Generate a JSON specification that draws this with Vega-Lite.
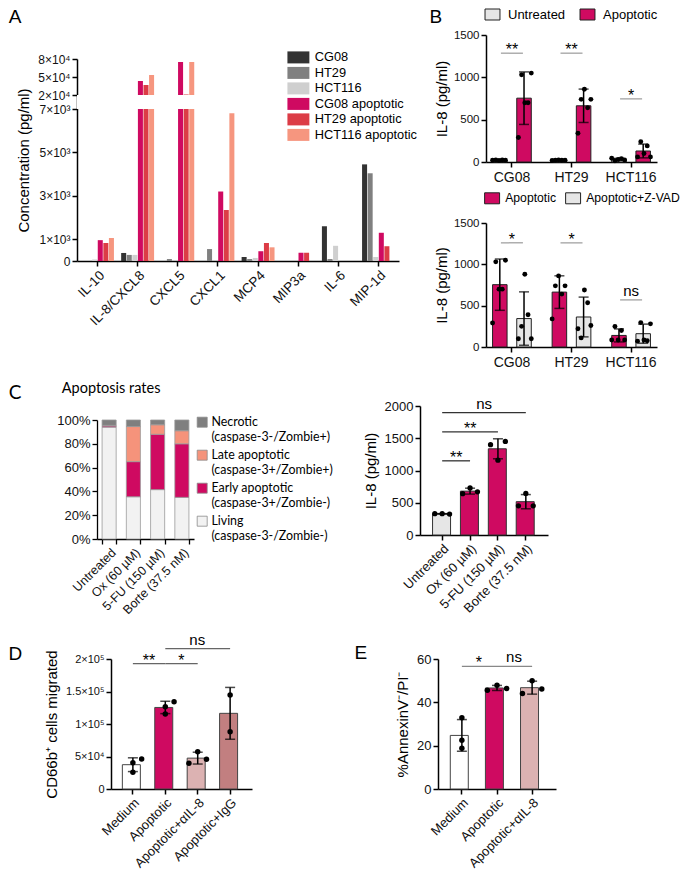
{
"$schema": "https://vega.github.io/schema/vega-lite/v6.json",
"background": "white",
"padding": {"left": 1, "top": 1, "right": 0, "bottom": 0},
"config": {
  "font": "Liberation Sans",
  "view": {"stroke": null},
  "axis": {"domainColor": "#000", "domainWidth": 1.5, "tickColor": "#000", "tickWidth": 1.5, "tickSize": 5, "labelColor": "#111", "labelFontSize": 12, "titleColor": "#000", "titleFontSize": 15, "titleFontWeight": "normal", "grid": false, "labelPadding": 2, "titlePadding": 6},
  "legend": {"labelColor": "#000", "labelFontSize": 13, "labelLimit": 300},
  "title": {"fontWeight": "normal", "color": "#000", "anchor": "start", "frame": "bounds", "fontSize": 19, "font": "Liberation Sans"}
},
"datasets": {
  "A": [
    {"cyt":"IL-10","series":"CG08","value":0},{"cyt":"IL-10","series":"HT29","value":0},{"cyt":"IL-10","series":"HCT116","value":70},{"cyt":"IL-10","series":"CG08 apoptotic","value":960},{"cyt":"IL-10","series":"HT29 apoptotic","value":830},{"cyt":"IL-10","series":"HCT116 apoptotic","value":1060},
    {"cyt":"IL-8/CXCL8","series":"CG08","value":370},{"cyt":"IL-8/CXCL8","series":"HT29","value":280},{"cyt":"IL-8/CXCL8","series":"HCT116","value":280},{"cyt":"IL-8/CXCL8","series":"CG08 apoptotic","value":43300},{"cyt":"IL-8/CXCL8","series":"HT29 apoptotic","value":36700},{"cyt":"IL-8/CXCL8","series":"HCT116 apoptotic","value":53300},
    {"cyt":"CXCL5","series":"CG08","value":0},{"cyt":"CXCL5","series":"HT29","value":90},{"cyt":"CXCL5","series":"HCT116","value":0},{"cyt":"CXCL5","series":"CG08 apoptotic","value":75000},{"cyt":"CXCL5","series":"HT29 apoptotic","value":21000},{"cyt":"CXCL5","series":"HCT116 apoptotic","value":75000},
    {"cyt":"CXCL1","series":"CG08","value":0},{"cyt":"CXCL1","series":"HT29","value":550},{"cyt":"CXCL1","series":"HCT116","value":0},{"cyt":"CXCL1","series":"CG08 apoptotic","value":3200},{"cyt":"CXCL1","series":"HT29 apoptotic","value":2350},{"cyt":"CXCL1","series":"HCT116 apoptotic","value":6800},
    {"cyt":"MCP4","series":"CG08","value":185},{"cyt":"MCP4","series":"HT29","value":90},{"cyt":"MCP4","series":"HCT116","value":140},{"cyt":"MCP4","series":"CG08 apoptotic","value":450},{"cyt":"MCP4","series":"HT29 apoptotic","value":830},{"cyt":"MCP4","series":"HCT116 apoptotic","value":630},
    {"cyt":"MIP3a","series":"CG08","value":0},{"cyt":"MIP3a","series":"HT29","value":0},{"cyt":"MIP3a","series":"HCT116","value":0},{"cyt":"MIP3a","series":"CG08 apoptotic","value":380},{"cyt":"MIP3a","series":"HT29 apoptotic","value":380},{"cyt":"MIP3a","series":"HCT116 apoptotic","value":0},
    {"cyt":"IL-6","series":"CG08","value":1600},{"cyt":"IL-6","series":"HT29","value":90},{"cyt":"IL-6","series":"HCT116","value":700},{"cyt":"IL-6","series":"CG08 apoptotic","value":0},{"cyt":"IL-6","series":"HT29 apoptotic","value":0},{"cyt":"IL-6","series":"HCT116 apoptotic","value":0},
    {"cyt":"MIP-1d","series":"CG08","value":4450},{"cyt":"MIP-1d","series":"HT29","value":4040},{"cyt":"MIP-1d","series":"HCT116","value":185},{"cyt":"MIP-1d","series":"CG08 apoptotic","value":1300},{"cyt":"MIP-1d","series":"HT29 apoptotic","value":680},{"cyt":"MIP-1d","series":"HCT116 apoptotic","value":0}
  ],
  "B1": [
    {"cell":"CG08","treat":"Untreated","rep":"U1","v":20},{"cell":"CG08","treat":"Untreated","rep":"U2","v":25},{"cell":"CG08","treat":"Untreated","rep":"U3","v":18},{"cell":"CG08","treat":"Untreated","rep":"U4","v":24},{"cell":"CG08","treat":"Untreated","rep":"U5","v":22},
    {"cell":"CG08","treat":"Apoptotic","rep":"A1","v":290},{"cell":"CG08","treat":"Apoptotic","rep":"A2","v":1030},{"cell":"CG08","treat":"Apoptotic","rep":"A3","v":700},{"cell":"CG08","treat":"Apoptotic","rep":"A4","v":700},{"cell":"CG08","treat":"Apoptotic","rep":"A5","v":1050},
    {"cell":"HT29","treat":"Untreated","rep":"U1","v":18},{"cell":"HT29","treat":"Untreated","rep":"U2","v":22},{"cell":"HT29","treat":"Untreated","rep":"U3","v":25},{"cell":"HT29","treat":"Untreated","rep":"U4","v":20},{"cell":"HT29","treat":"Untreated","rep":"U5","v":22},
    {"cell":"HT29","treat":"Apoptotic","rep":"A1","v":340},{"cell":"HT29","treat":"Apoptotic","rep":"A2","v":740},{"cell":"HT29","treat":"Apoptotic","rep":"A3","v":860},{"cell":"HT29","treat":"Apoptotic","rep":"A4","v":640},{"cell":"HT29","treat":"Apoptotic","rep":"A5","v":740},
    {"cell":"HCT116","treat":"Untreated","rep":"U1","v":45},{"cell":"HCT116","treat":"Untreated","rep":"U2","v":15},{"cell":"HCT116","treat":"Untreated","rep":"U3","v":30},{"cell":"HCT116","treat":"Untreated","rep":"U4","v":40},{"cell":"HCT116","treat":"Untreated","rep":"U5","v":25},
    {"cell":"HCT116","treat":"Apoptotic","rep":"A1","v":60},{"cell":"HCT116","treat":"Apoptotic","rep":"A2","v":240},{"cell":"HCT116","treat":"Apoptotic","rep":"A3","v":100},{"cell":"HCT116","treat":"Apoptotic","rep":"A4","v":190},{"cell":"HCT116","treat":"Apoptotic","rep":"A5","v":60}
  ],
  "B2": [
    {"cell":"CG08","treat":"Apoptotic","rep":"A1","v":290},{"cell":"CG08","treat":"Apoptotic","rep":"A2","v":1030},{"cell":"CG08","treat":"Apoptotic","rep":"A3","v":700},{"cell":"CG08","treat":"Apoptotic","rep":"A4","v":700},{"cell":"CG08","treat":"Apoptotic","rep":"A5","v":1050},
    {"cell":"CG08","treat":"Apoptotic+Z-VAD","rep":"Z1","v":100},{"cell":"CG08","treat":"Apoptotic+Z-VAD","rep":"Z2","v":250},{"cell":"CG08","treat":"Apoptotic+Z-VAD","rep":"Z3","v":880},{"cell":"CG08","treat":"Apoptotic+Z-VAD","rep":"Z4","v":390},{"cell":"CG08","treat":"Apoptotic+Z-VAD","rep":"Z5","v":100},
    {"cell":"HT29","treat":"Apoptotic","rep":"A1","v":340},{"cell":"HT29","treat":"Apoptotic","rep":"A2","v":740},{"cell":"HT29","treat":"Apoptotic","rep":"A3","v":860},{"cell":"HT29","treat":"Apoptotic","rep":"A4","v":640},{"cell":"HT29","treat":"Apoptotic","rep":"A5","v":740},
    {"cell":"HT29","treat":"Apoptotic+Z-VAD","rep":"Z1","v":220},{"cell":"HT29","treat":"Apoptotic+Z-VAD","rep":"Z2","v":110},{"cell":"HT29","treat":"Apoptotic+Z-VAD","rep":"Z3","v":690},{"cell":"HT29","treat":"Apoptotic+Z-VAD","rep":"Z4","v":535},{"cell":"HT29","treat":"Apoptotic+Z-VAD","rep":"Z5","v":260},
    {"cell":"HCT116","treat":"Apoptotic","rep":"A1","v":84},{"cell":"HCT116","treat":"Apoptotic","rep":"A2","v":248},{"cell":"HCT116","treat":"Apoptotic","rep":"A3","v":84},{"cell":"HCT116","treat":"Apoptotic","rep":"A4","v":200},{"cell":"HCT116","treat":"Apoptotic","rep":"A5","v":84},
    {"cell":"HCT116","treat":"Apoptotic+Z-VAD","rep":"Z1","v":70},{"cell":"HCT116","treat":"Apoptotic+Z-VAD","rep":"Z2","v":295},{"cell":"HCT116","treat":"Apoptotic+Z-VAD","rep":"Z3","v":84},{"cell":"HCT116","treat":"Apoptotic+Z-VAD","rep":"Z4","v":76},{"cell":"HCT116","treat":"Apoptotic+Z-VAD","rep":"Z5","v":280}
  ],
  "Bsig1": [{"cell":"CG08","y":1285,"lab":"**"},{"cell":"HT29","y":1285,"lab":"**"},{"cell":"HCT116","y":746,"lab":"*"}],
  "Bsig2": [{"cell":"CG08","y":1260,"lab":"*"},{"cell":"HT29","y":1260,"lab":"*"},{"cell":"HCT116","y":570,"lab":"ns"}],
  "Cst": [
    {"drug":"Untreated","state":"Living","lvl":1,"pct":94},{"drug":"Untreated","state":"Early apoptotic","lvl":2,"pct":1},{"drug":"Untreated","state":"Late apoptotic","lvl":3,"pct":0.5},{"drug":"Untreated","state":"Necrotic","lvl":4,"pct":4.5},
    {"drug":"Ox (60 µM)","state":"Living","lvl":1,"pct":35.5},{"drug":"Ox (60 µM)","state":"Early apoptotic","lvl":2,"pct":29.5},{"drug":"Ox (60 µM)","state":"Late apoptotic","lvl":3,"pct":29.5},{"drug":"Ox (60 µM)","state":"Necrotic","lvl":4,"pct":5.5},
    {"drug":"5-FU (150 µM)","state":"Living","lvl":1,"pct":41.5},{"drug":"5-FU (150 µM)","state":"Early apoptotic","lvl":2,"pct":46.5},{"drug":"5-FU (150 µM)","state":"Late apoptotic","lvl":3,"pct":8},{"drug":"5-FU (150 µM)","state":"Necrotic","lvl":4,"pct":4},
    {"drug":"Borte (37.5 nM)","state":"Living","lvl":1,"pct":35},{"drug":"Borte (37.5 nM)","state":"Early apoptotic","lvl":2,"pct":45},{"drug":"Borte (37.5 nM)","state":"Late apoptotic","lvl":3,"pct":11},{"drug":"Borte (37.5 nM)","state":"Necrotic","lvl":4,"pct":9}
  ],
  "Cil": [
    {"drug":"Untreated","rep":"a","v":330},{"drug":"Untreated","rep":"b","v":330},{"drug":"Untreated","rep":"c","v":325},
    {"drug":"Ox (60 µM)","rep":"a","v":640},{"drug":"Ox (60 µM)","rep":"b","v":730},{"drug":"Ox (60 µM)","rep":"c","v":670},
    {"drug":"5-FU (150 µM)","rep":"a","v":1400},{"drug":"5-FU (150 µM)","rep":"b","v":1160},{"drug":"5-FU (150 µM)","rep":"c","v":1450},
    {"drug":"Borte (37.5 nM)","rep":"a","v":453},{"drug":"Borte (37.5 nM)","rep":"b","v":644},{"drug":"Borte (37.5 nM)","rep":"c","v":453}
  ],
  "Csig": [
    {"g1":"Untreated","g2":"Ox (60 µM)","y":1150,"lab":"**","span":1},
    {"g1":"Untreated","g2":"5-FU (150 µM)","y":1600,"lab":"**","span":2},
    {"g1":"Untreated","g2":"Borte (37.5 nM)","y":1896,"lab":"ns","span":3}
  ],
  "D": [
    {"grp":"Medium","rep":"b","v":40500},{"grp":"Medium","rep":"b","v":25600},{"grp":"Medium","rep":"c","v":46100},
    {"grp":"Apoptotic","rep":"b","v":126700},{"grp":"Apoptotic","rep":"b","v":115400},{"grp":"Apoptotic","rep":"c","v":134300},
    {"grp":"Apoptotic+αIL-8","rep":"a","v":39500},{"grp":"Apoptotic+αIL-8","rep":"b","v":57400},{"grp":"Apoptotic+αIL-8","rep":"c","v":45600},
    {"grp":"Apoptotic+IgG","rep":"b","v":144600},{"grp":"Apoptotic+IgG","rep":"b","v":88200}
  ],
  "Dsig": [
    {"g1":"Medium","g2":"Apoptotic","y":193000,"lab":"**","span":1},
    {"g1":"Apoptotic","g2":"Apoptotic+αIL-8","y":193000,"lab":"*","span":1},
    {"g1":"Apoptotic","g2":"Apoptotic+IgG","y":216000,"lab":"ns","span":2}
  ],
  "E": [
    {"grp":"Medium","rep":"b","v":32.9},{"grp":"Medium","rep":"b","v":22.5},{"grp":"Medium","rep":"b","v":18.8},
    {"grp":"Apoptotic","rep":"a","v":45.6},{"grp":"Apoptotic","rep":"b","v":47.9},{"grp":"Apoptotic","rep":"c","v":46.4},
    {"grp":"Apoptotic+αIL-8","rep":"a","v":44.1},{"grp":"Apoptotic+αIL-8","rep":"b","v":50},{"grp":"Apoptotic+αIL-8","rep":"c","v":46.2}
  ],
  "Esig": [
    {"g1":"Medium","g2":"Apoptotic","y":56.6,"lab":"*"},
    {"g1":"Apoptotic","g2":"Apoptotic+αIL-8","y":56.6,"lab":"ns"}
  ],
  "dummy": [{"k": 0}]
},
"spacing": 4,
"align": "none",
"resolve": {"scale": {"color": "independent", "x": "independent", "y": "independent", "xOffset": "independent"}, "legend": {"color": "independent"}},
"vconcat": [
 {
  "spacing": 0, "align": "none",
  "resolve": {"scale": {"color": "independent", "x": "independent", "y": "independent", "xOffset": "independent"}, "legend": {"color": "independent"}},
  "hconcat": [
   {"width": 1, "height": 1, "data": {"name": "dummy"}, "mark": {"type": "point", "opacity": 0}, "encoding": {}},
   {
    "spacing": 12, "align": "none",
    "resolve": {"scale": {"color": "independent", "x": "independent", "y": "independent", "xOffset": "independent"}, "legend": {"color": "independent"}},
    "hconcat": [
     {
      "spacing": 0, "align": "none",
      "resolve": {"scale": {"color": "independent", "x": "independent", "y": "independent", "xOffset": "independent"}, "legend": {"color": "independent"}},
      "vconcat": [
       {"width": 1, "height": 1, "data": {"name": "dummy"}, "mark": {"type": "point", "opacity": 0}, "encoding": {}},
       {
        "width": 322, "height": 202,
        "title": {"text": "A", "offset": 24, "dx": -8},
        "layer": [
         {"data": {"name": "A"},
          "mark": {"type": "bar"},
          "encoding": {
           "x": {"field": "cyt", "type": "nominal", "sort": ["IL-10","IL-8/CXCL8","CXCL5","CXCL1","MCP4","MIP3a","IL-6","MIP-1d"], "scale": {"paddingInner": 0.18, "paddingOuter": 0.1}, "axis": {"title": null, "labelAngle": -45, "labelFontSize": 13.5}},
           "xOffset": {"field": "series", "type": "nominal", "sort": ["CG08","HT29","HCT116","CG08 apoptotic","HT29 apoptotic","HCT116 apoptotic"], "scale": {"paddingInner": 0.1, "paddingOuter": 0}},
           "y": {"field": "value", "type": "quantitative", "title": "Concentration (pg/ml)", "scale": {"domain": [0,7000,20000,80000], "range": [202,50,36,0], "nice": false, "zero": false}, "axis": {"values": [0,1000,3000,5000,7000,20000,50000,80000], "tickCount": 20, "labelOverlap": false, "labelExpr": "datum.value == 0 ? '0' : datum.value < 10000 ? (datum.value / 1000) + '×10³' : (datum.value / 10000) + '×10⁴'", "labelFontSize": 12}},
           "color": {"field": "series", "type": "nominal", "scale": {"domain": ["CG08","HT29","HCT116","CG08 apoptotic","HT29 apoptotic","HCT116 apoptotic"], "range": ["#333333","#808080","#cfcfcf","#cf0a61","#dc3c46","#f6967f"]}, "legend": {"title": null, "orient": "none", "legendX": 215, "legendY": -8, "symbolType": "M-1.83,-1H1.83V1H-1.83Z", "symbolSize": 144, "symbolStrokeWidth": 0, "labelFontSize": 12.8, "rowPadding": 1.5, "labelOffset": 10, "padding": 0}}
          }},
         {"data": {"values": [{"lo": 7000, "hi": 20000}]},
          "mark": {"type": "rect", "color": "white"},
          "encoding": {"y": {"field": "lo", "type": "quantitative", "title": "Concentration (pg/ml)"}, "y2": {"field": "hi"}}}
        ]
       }
      ]
     },
     {
      "spacing": 0, "align": "none",
      "resolve": {"scale": {"color": "independent", "x": "independent", "y": "independent", "xOffset": "independent"}, "legend": {"color": "independent"}},
      "vconcat": [
       {"width": 1, "height": 1, "data": {"name": "dummy"}, "mark": {"type": "point", "opacity": 0}, "encoding": {}},
       {
        "spacing": 8,
        "resolve": {"scale": {"color": "independent", "x": "independent", "y": "independent", "xOffset": "independent"}, "legend": {"color": "independent"}},
        "vconcat": [
         {
          "width": 171, "height": 127,
          "title": {"text": "B", "offset": -19, "dx": -5},
          "resolve": {"scale": {"xOffset": "independent"}},
          "layer": [
           {"data": {"name": "B1"}, "mark": {"type": "bar", "stroke": "#222", "strokeWidth": 1},
            "encoding": {
             "x": {"field": "cell", "type": "nominal", "sort": ["CG08","HT29","HCT116"], "scale": {"paddingInner": 0.35, "paddingOuter": 0.11}, "axis": {"title": null, "labelAngle": 0, "labelFontSize": 14, "labelPadding": 3}},
             "xOffset": {"field": "treat", "type": "nominal", "sort": ["Untreated","Apoptotic"], "scale": {"paddingInner": 0.4, "paddingOuter": 0}},
             "y": {"aggregate": "mean", "field": "v", "type": "quantitative", "title": "IL-8 (pg/ml)", "scale": {"domain": [0, 1500], "nice": false}, "axis": {"values": [0, 500, 1000, 1500], "format": "d", "labelFontSize": 11.5, "titlePadding": 4}},
             "color": {"field": "treat", "type": "nominal", "scale": {"domain": ["Untreated","Apoptotic"], "range": ["#e6e6e6","#cf0a61"]}, "legend": {"title": null, "orient": "top", "direction": "horizontal", "offset": 13, "symbolType": "M-1.36,-1H1.36V1H-1.36Z", "symbolSize": 121, "symbolStrokeColor": "#222", "symbolStrokeWidth": 1, "labelFontSize": 13, "columnPadding": 12, "labelOffset": 9, "padding": 0}}
            }},
           {"data": {"name": "B1"}, "mark": {"type": "errorbar", "extent": "stdev", "ticks": {"size": 10}, "thickness": 1.5, "color": "#000"},
            "encoding": {
             "x": {"field": "cell", "type": "nominal", "sort": ["CG08","HT29","HCT116"], "scale": {"paddingInner": 0.35, "paddingOuter": 0.11}, "axis": {"title": null, "labelAngle": 0, "labelFontSize": 14, "labelPadding": 3}},
             "xOffset": {"field": "treat", "type": "nominal", "sort": ["Untreated","Apoptotic"], "scale": {"paddingInner": 0.4, "paddingOuter": 0}},
             "y": {"field": "v", "type": "quantitative", "title": "IL-8 (pg/ml)"}}},
           {"data": {"name": "B1"}, "mark": {"type": "circle", "color": "#000", "size": 24, "opacity": 1},
            "encoding": {
             "x": {"field": "cell", "type": "nominal", "sort": ["CG08","HT29","HCT116"], "scale": {"paddingInner": 0.35, "paddingOuter": 0.11}, "axis": {"title": null, "labelAngle": 0, "labelFontSize": 14, "labelPadding": 3}},
             "xOffset": {"field": "rep", "type": "nominal", "scale": {"domain": ["U1","U2","U3","U4","U5","g1","g2","g3","A1","A2","A3","A4","A5"], "paddingInner": 0, "paddingOuter": 0}},
             "y": {"field": "v", "type": "quantitative", "title": "IL-8 (pg/ml)"}}},
           {"data": {"name": "Bsig1"}, "mark": {"type": "tick", "orient": "horizontal", "size": 22, "thickness": 1.5, "color": "#8c8c8c"},
            "encoding": {
             "x": {"field": "cell", "type": "nominal", "sort": ["CG08","HT29","HCT116"], "scale": {"paddingInner": 0.35, "paddingOuter": 0.11}, "axis": {"title": null, "labelAngle": 0, "labelFontSize": 14, "labelPadding": 3}},
             "y": {"field": "y", "type": "quantitative", "title": "IL-8 (pg/ml)"}}},
           {"data": {"name": "Bsig1"}, "mark": {"type": "text", "fontSize": 16, "baseline": "alphabetic", "dy": 2},
            "encoding": {
             "x": {"field": "cell", "type": "nominal", "sort": ["CG08","HT29","HCT116"], "scale": {"paddingInner": 0.35, "paddingOuter": 0.11}, "axis": {"title": null, "labelAngle": 0, "labelFontSize": 14, "labelPadding": 3}},
             "y": {"field": "y", "type": "quantitative", "title": "IL-8 (pg/ml)"},
             "text": {"field": "lab"}}}
          ]
         },
         {
          "width": 171, "height": 124,
          "resolve": {"scale": {"xOffset": "independent"}},
          "layer": [
           {"data": {"name": "B2"}, "mark": {"type": "bar", "stroke": "#222", "strokeWidth": 1},
            "encoding": {
             "x": {"field": "cell", "type": "nominal", "sort": ["CG08","HT29","HCT116"], "scale": {"paddingInner": 0.35, "paddingOuter": 0.11}, "axis": {"title": null, "labelAngle": 0, "labelFontSize": 14, "labelPadding": 3}},
             "xOffset": {"field": "treat", "type": "nominal", "sort": ["Apoptotic","Apoptotic+Z-VAD"], "scale": {"paddingInner": 0.4, "paddingOuter": 0}},
             "y": {"aggregate": "mean", "field": "v", "type": "quantitative", "title": "IL-8 (pg/ml)", "scale": {"domain": [0, 1500], "nice": false}, "axis": {"values": [0, 500, 1000, 1500], "format": "d", "labelFontSize": 11.5, "titlePadding": 4}},
             "color": {"field": "treat", "type": "nominal", "scale": {"domain": ["Apoptotic","Apoptotic+Z-VAD"], "range": ["#cf0a61","#e6e6e6"]}, "legend": {"title": null, "orient": "top", "direction": "horizontal", "offset": 17, "symbolType": "M-1.36,-1H1.36V1H-1.36Z", "symbolSize": 121, "symbolStrokeColor": "#222", "symbolStrokeWidth": 1, "labelFontSize": 12.2, "columnPadding": 6, "labelOffset": 7, "padding": 0}}
            }},
           {"data": {"name": "B2"}, "mark": {"type": "errorbar", "extent": "stdev", "ticks": {"size": 10}, "thickness": 1.5, "color": "#000"},
            "encoding": {
             "x": {"field": "cell", "type": "nominal", "sort": ["CG08","HT29","HCT116"], "scale": {"paddingInner": 0.35, "paddingOuter": 0.11}, "axis": {"title": null, "labelAngle": 0, "labelFontSize": 14, "labelPadding": 3}},
             "xOffset": {"field": "treat", "type": "nominal", "sort": ["Apoptotic","Apoptotic+Z-VAD"], "scale": {"paddingInner": 0.4, "paddingOuter": 0}},
             "y": {"field": "v", "type": "quantitative", "title": "IL-8 (pg/ml)"}}},
           {"data": {"name": "B2"}, "mark": {"type": "circle", "color": "#000", "size": 24, "opacity": 1},
            "encoding": {
             "x": {"field": "cell", "type": "nominal", "sort": ["CG08","HT29","HCT116"], "scale": {"paddingInner": 0.35, "paddingOuter": 0.11}, "axis": {"title": null, "labelAngle": 0, "labelFontSize": 14, "labelPadding": 3}},
             "xOffset": {"field": "rep", "type": "nominal", "scale": {"domain": ["A1","A2","A3","A4","A5","g1","g2","g3","Z1","Z2","Z3","Z4","Z5"], "paddingInner": 0, "paddingOuter": 0}},
             "y": {"field": "v", "type": "quantitative", "title": "IL-8 (pg/ml)"}}},
           {"data": {"name": "Bsig2"}, "mark": {"type": "tick", "orient": "horizontal", "size": 22, "thickness": 1.5, "color": "#8c8c8c"},
            "encoding": {
             "x": {"field": "cell", "type": "nominal", "sort": ["CG08","HT29","HCT116"], "scale": {"paddingInner": 0.35, "paddingOuter": 0.11}, "axis": {"title": null, "labelAngle": 0, "labelFontSize": 14, "labelPadding": 3}},
             "y": {"field": "y", "type": "quantitative", "title": "IL-8 (pg/ml)"}}},
           {"data": {"name": "Bsig2"}, "transform": [{"filter": "datum.lab != 'ns'"}], "mark": {"type": "text", "fontSize": 16, "baseline": "alphabetic", "dy": 2},
            "encoding": {
             "x": {"field": "cell", "type": "nominal", "sort": ["CG08","HT29","HCT116"], "scale": {"paddingInner": 0.35, "paddingOuter": 0.11}, "axis": {"title": null, "labelAngle": 0, "labelFontSize": 14, "labelPadding": 3}},
             "y": {"field": "y", "type": "quantitative", "title": "IL-8 (pg/ml)"},
             "text": {"field": "lab"}}},
           {"data": {"name": "Bsig2"}, "transform": [{"filter": "datum.lab == 'ns'"}], "mark": {"type": "text", "fontSize": 15, "baseline": "alphabetic", "dy": -4},
            "encoding": {
             "x": {"field": "cell", "type": "nominal", "sort": ["CG08","HT29","HCT116"], "scale": {"paddingInner": 0.35, "paddingOuter": 0.11}, "axis": {"title": null, "labelAngle": 0, "labelFontSize": 14, "labelPadding": 3}},
             "y": {"field": "y", "type": "quantitative", "title": "IL-8 (pg/ml)"},
             "text": {"field": "lab"}}}
          ]
         }
        ]
       }
      ]
     }
    ]
   }
  ]
 },
 {
  "spacing": 15, "align": "none",
  "resolve": {"scale": {"color": "independent", "x": "independent", "y": "independent", "xOffset": "independent"}, "legend": {"color": "independent"}},
  "vconcat": [
   {
    "spacing": 0, "align": "none",
    "resolve": {"scale": {"color": "independent", "x": "independent", "y": "independent", "xOffset": "independent"}, "legend": {"color": "independent"}},
    "hconcat": [
     {"width": 1, "height": 1, "data": {"name": "dummy"}, "mark": {"type": "point", "opacity": 0}, "encoding": {}},
     {
      "title": {"text": "C", "font": "Lato", "fontSize": 19, "offset": -29, "dx": -48},
      "spacing": 30, "align": "none",
      "resolve": {"scale": {"color": "independent", "x": "independent", "y": "independent", "xOffset": "independent"}, "legend": {"color": "independent"}},
      "hconcat": [
       {
        "spacing": 0, "align": "none",
        "resolve": {"scale": {"color": "independent", "x": "independent", "y": "independent", "xOffset": "independent"}, "legend": {"color": "independent"}},
        "vconcat": [
         {"width": 1, "height": 1, "data": {"name": "dummy"}, "mark": {"type": "point", "opacity": 0}, "encoding": {}},
         {
          "width": 97, "height": 119,
          "title": {"text": "Apoptosis rates", "font": "Lato", "fontSize": 14.5, "offset": 14, "dx": 5},
          "data": {"name": "Cst"},
          "mark": {"type": "bar", "stroke": "#9a9a9a", "strokeWidth": 0.8},
          "encoding": {
           "x": {"field": "drug", "type": "nominal", "sort": ["Untreated","Ox (60 µM)","5-FU (150 µM)","Borte (37.5 nM)"], "scale": {"paddingInner": 0.42, "paddingOuter": 0.21}, "axis": {"title": null, "labelAngle": -45, "labelFontSize": 12.5, "tickBand": "extent", "domainWidth": 1.3, "tickWidth": 1.3}},
           "y": {"field": "pct", "type": "quantitative", "stack": "zero", "scale": {"domain": [0, 100], "nice": false}, "axis": {"title": null, "values": [0,20,40,60,80,100], "tickCount": 20, "labelExpr": "datum.value + '%'", "labelFontSize": 13, "domainWidth": 1.3, "tickWidth": 1.3}},
           "color": {"field": "state", "type": "nominal", "scale": {"domain": ["Necrotic","Late apoptotic","Early apoptotic","Living"], "range": ["#7f7f7f","#f5937b","#cf0a61","#f2f2f2"]}, "legend": {"title": null, "orient": "none", "legendX": 99, "legendY": -10, "symbolType": "M-1,0.2H1V2.2H-1Z", "symbolSize": 100, "symbolStrokeColor": "#8a8a8a", "symbolStrokeWidth": 0.8, "labelFont": "Lato", "labelFontSize": 12.4, "labelBaseline": "top", "rowPadding": 0, "labelOffset": 3, "padding": 0, "labelExpr": "datum.label == 'Necrotic' ? ['Necrotic', '(caspase-3-/Zombie+)'] : datum.label == 'Late apoptotic' ? ['Late apoptotic', '(caspase-3+/Zombie+)'] : datum.label == 'Early apoptotic' ? ['Early apoptotic', '(caspase-3+/Zombie-)'] : ['Living', '(caspase-3-/Zombie-)']"}},
           "order": {"field": "lvl", "type": "quantitative"}
          }
         }
        ]
       },
       {
        "spacing": 0, "align": "none",
        "resolve": {"scale": {"color": "independent", "x": "independent", "y": "independent", "xOffset": "independent"}, "legend": {"color": "independent"}},
        "vconcat": [
         {"width": 1, "height": 1, "data": {"name": "dummy"}, "mark": {"type": "point", "opacity": 0}, "encoding": {}},
         {
          "width": 128, "height": 129,
          "title": {"text": " ", "fontSize": 16, "offset": 0},
          "layer": [
           {"data": {"name": "Cil"}, "mark": {"type": "bar", "stroke": "#333", "strokeWidth": 1},
            "encoding": {
             "x": {"field": "drug", "type": "nominal", "scale": {"domain": ["Untreated","Ox (60 µM)","5-FU (150 µM)","Borte (37.5 nM)"], "paddingInner": 0.31, "paddingOuter": 0.45}, "axis": {"title": null, "labelAngle": -45, "labelFontSize": 13}},
             "y": {"aggregate": "mean", "field": "v", "type": "quantitative", "title": "IL-8 (pg/ml)", "scale": {"domain": [0, 2000], "nice": false}, "axis": {"values": [0,500,1000,1500,2000], "tickCount": 20, "labelFontSize": 13, "format": "d"}},
             "color": {"field": "drug", "type": "nominal", "scale": {"domain": ["Untreated","Ox (60 µM)","5-FU (150 µM)","Borte (37.5 nM)"], "range": ["#e6e6e6","#cf0a61","#cf0a61","#cf0a61"]}, "legend": null}
            }},
           {"data": {"name": "Cil"}, "mark": {"type": "errorbar", "extent": "stdev", "ticks": {"size": 10}, "thickness": 1.5, "color": "#000"},
            "encoding": {
             "x": {"field": "drug", "type": "nominal", "scale": {"domain": ["Untreated","Ox (60 µM)","5-FU (150 µM)","Borte (37.5 nM)"], "paddingInner": 0.31, "paddingOuter": 0.45}, "axis": {"title": null, "labelAngle": -45, "labelFontSize": 13}},
             "y": {"field": "v", "type": "quantitative", "title": "IL-8 (pg/ml)"}}},
           {"data": {"name": "Cil"}, "mark": {"type": "circle", "color": "#000", "size": 28, "opacity": 1},
            "encoding": {
             "x": {"field": "drug", "type": "nominal", "scale": {"domain": ["Untreated","Ox (60 µM)","5-FU (150 µM)","Borte (37.5 nM)"], "paddingInner": 0.31, "paddingOuter": 0.45}, "axis": {"title": null, "labelAngle": -45, "labelFontSize": 13}},
             "xOffset": {"field": "rep", "type": "nominal", "scale": {"domain": ["a","b","c"], "paddingInner": 0, "paddingOuter": 0.3}},
             "y": {"field": "v", "type": "quantitative", "title": "IL-8 (pg/ml)"}}},
           {"data": {"name": "Csig"}, "mark": {"type": "rule", "strokeWidth": 1.3, "color": "#333"},
            "encoding": {
             "x": {"field": "g1", "type": "nominal", "scale": {"domain": ["Untreated","Ox (60 µM)","5-FU (150 µM)","Borte (37.5 nM)"], "paddingInner": 0.31, "paddingOuter": 0.45}, "axis": {"title": null, "labelAngle": -45, "labelFontSize": 13}},
             "x2": {"field": "g2"},
             "y": {"field": "y", "type": "quantitative", "title": "IL-8 (pg/ml)"}}},
           {"data": {"name": "Csig"}, "transform": [{"filter": "datum.span == 1"}], "mark": {"type": "text", "fontSize": 16, "baseline": "alphabetic", "dy": 2, "dx": 14},
            "encoding": {
             "x": {"field": "g1", "type": "nominal", "scale": {"domain": ["Untreated","Ox (60 µM)","5-FU (150 µM)","Borte (37.5 nM)"], "paddingInner": 0.31, "paddingOuter": 0.45}, "axis": {"title": null, "labelAngle": -45, "labelFontSize": 13}},
             "y": {"field": "y", "type": "quantitative", "title": "IL-8 (pg/ml)"}, "text": {"field": "lab"}}},
           {"data": {"name": "Csig"}, "transform": [{"filter": "datum.span == 2"}], "mark": {"type": "text", "fontSize": 16, "baseline": "alphabetic", "dy": 2, "dx": 28},
            "encoding": {
             "x": {"field": "g1", "type": "nominal", "scale": {"domain": ["Untreated","Ox (60 µM)","5-FU (150 µM)","Borte (37.5 nM)"], "paddingInner": 0.31, "paddingOuter": 0.45}, "axis": {"title": null, "labelAngle": -45, "labelFontSize": 13}},
             "y": {"field": "y", "type": "quantitative", "title": "IL-8 (pg/ml)"}, "text": {"field": "lab"}}},
           {"data": {"name": "Csig"}, "transform": [{"filter": "datum.span == 3"}], "mark": {"type": "text", "fontSize": 15, "baseline": "alphabetic", "dy": -4, "dx": 42},
            "encoding": {
             "x": {"field": "g1", "type": "nominal", "scale": {"domain": ["Untreated","Ox (60 µM)","5-FU (150 µM)","Borte (37.5 nM)"], "paddingInner": 0.31, "paddingOuter": 0.45}, "axis": {"title": null, "labelAngle": -45, "labelFontSize": 13}},
             "y": {"field": "y", "type": "quantitative", "title": "IL-8 (pg/ml)"}, "text": {"field": "lab"}}}
          ]
         }
        ]
       }
      ]
     }
    ]
   },
   {
    "spacing": 0, "align": "none",
    "resolve": {"scale": {"color": "independent", "x": "independent", "y": "independent", "xOffset": "independent"}, "legend": {"color": "independent"}},
    "hconcat": [
     {"width": 1, "height": 1, "data": {"name": "dummy"}, "mark": {"type": "point", "opacity": 0}, "encoding": {}},
     {
      "spacing": 102, "align": "none",
      "resolve": {"scale": {"color": "independent", "x": "independent", "y": "independent", "xOffset": "independent"}, "legend": {"color": "independent"}},
      "hconcat": [
       {
        "width": 141, "height": 130,
        "title": {"text": "D", "offset": -31, "dx": -36},
        "layer": [
         {"data": {"name": "D"}, "mark": {"type": "bar", "stroke": "#444", "strokeWidth": 1},
          "encoding": {
           "x": {"field": "grp", "type": "nominal", "scale": {"domain": ["Medium","Apoptotic","Apoptotic+αIL-8","Apoptotic+IgG"], "paddingInner": 0.35, "paddingOuter": 0.35}, "axis": {"title": null, "labelAngle": -45, "labelFontSize": 13}},
           "y": {"aggregate": "mean", "field": "v", "type": "quantitative", "title": "CD66b⁺ cells migrated", "scale": {"domain": [0, 200000], "nice": false}, "axis": {"values": [0,50000,100000,150000,200000], "tickCount": 20, "labelOverlap": false, "labelFontSize": 11, "labelExpr": "datum.value == 0 ? '0' : datum.value == 50000 ? '5×10⁴' : datum.value == 100000 ? '1×10⁵' : datum.value == 150000 ? '1.5×10⁵' : '2×10⁵'"}},
           "color": {"field": "grp", "type": "nominal", "scale": {"domain": ["Medium","Apoptotic","Apoptotic+αIL-8","Apoptotic+IgG"], "range": ["#ffffff","#cf0a61","#dcb2b2","#c27f80"]}, "legend": null}
          }},
         {"data": {"name": "D"}, "mark": {"type": "errorbar", "extent": "stdev", "ticks": {"size": 10}, "thickness": 1.5, "color": "#000"},
          "encoding": {
           "x": {"field": "grp", "type": "nominal", "scale": {"domain": ["Medium","Apoptotic","Apoptotic+αIL-8","Apoptotic+IgG"], "paddingInner": 0.35, "paddingOuter": 0.35}, "axis": {"title": null, "labelAngle": -45, "labelFontSize": 13}},
           "y": {"field": "v", "type": "quantitative", "title": "CD66b⁺ cells migrated"}}},
         {"data": {"name": "D"}, "mark": {"type": "circle", "color": "#000", "size": 30, "opacity": 1},
          "encoding": {
           "x": {"field": "grp", "type": "nominal", "scale": {"domain": ["Medium","Apoptotic","Apoptotic+αIL-8","Apoptotic+IgG"], "paddingInner": 0.35, "paddingOuter": 0.35}, "axis": {"title": null, "labelAngle": -45, "labelFontSize": 13}},
           "xOffset": {"field": "rep", "type": "nominal", "scale": {"domain": ["a","b","c"], "paddingInner": 0, "paddingOuter": 0.2}},
           "y": {"field": "v", "type": "quantitative", "title": "CD66b⁺ cells migrated"}}},
         {"data": {"name": "Dsig"}, "mark": {"type": "rule", "strokeWidth": 1.3, "color": "#666"},
          "encoding": {
           "x": {"field": "g1", "type": "nominal", "scale": {"domain": ["Medium","Apoptotic","Apoptotic+αIL-8","Apoptotic+IgG"], "paddingInner": 0.35, "paddingOuter": 0.35}, "axis": {"title": null, "labelAngle": -45, "labelFontSize": 13}},
           "x2": {"field": "g2"},
           "y": {"field": "y", "type": "quantitative", "title": "CD66b⁺ cells migrated"}}},
         {"data": {"name": "Dsig"}, "transform": [{"filter": "datum.span == 1"}], "mark": {"type": "text", "fontSize": 16, "baseline": "alphabetic", "dy": 2, "dx": 16},
          "encoding": {
           "x": {"field": "g1", "type": "nominal", "scale": {"domain": ["Medium","Apoptotic","Apoptotic+αIL-8","Apoptotic+IgG"], "paddingInner": 0.35, "paddingOuter": 0.35}, "axis": {"title": null, "labelAngle": -45, "labelFontSize": 13}},
           "y": {"field": "y", "type": "quantitative", "title": "CD66b⁺ cells migrated"}, "text": {"field": "lab"}}},
         {"data": {"name": "Dsig"}, "transform": [{"filter": "datum.span == 2"}], "mark": {"type": "text", "fontSize": 15, "baseline": "alphabetic", "dy": -4, "dx": 32},
          "encoding": {
           "x": {"field": "g1", "type": "nominal", "scale": {"domain": ["Medium","Apoptotic","Apoptotic+αIL-8","Apoptotic+IgG"], "paddingInner": 0.35, "paddingOuter": 0.35}, "axis": {"title": null, "labelAngle": -45, "labelFontSize": 13}},
           "y": {"field": "y", "type": "quantitative", "title": "CD66b⁺ cells migrated"}, "text": {"field": "lab"}}}
        ]
       },
       {
        "width": 118, "height": 130,
        "title": {"text": "E", "offset": -13, "dx": -41},
        "layer": [
         {"data": {"name": "E"}, "mark": {"type": "bar", "stroke": "#444", "strokeWidth": 1},
          "encoding": {
           "x": {"field": "grp", "type": "nominal", "scale": {"domain": ["Medium","Apoptotic","Apoptotic+αIL-8"], "paddingInner": 0.34, "paddingOuter": 0.35}, "axis": {"title": null, "labelAngle": -45, "labelFontSize": 13}},
           "y": {"aggregate": "mean", "field": "v", "type": "quantitative", "title": "%AnnexinV⁻/PI⁻", "scale": {"domain": [0, 60], "nice": false}, "axis": {"values": [0,20,40,60], "tickCount": 20, "labelFontSize": 13}},
           "color": {"field": "grp", "type": "nominal", "scale": {"domain": ["Medium","Apoptotic","Apoptotic+αIL-8"], "range": ["#ffffff","#cf0a61","#dcb2b2"]}, "legend": null}
          }},
         {"data": {"name": "E"}, "mark": {"type": "errorbar", "extent": "stdev", "ticks": {"size": 10}, "thickness": 1.5, "color": "#000"},
          "encoding": {
           "x": {"field": "grp", "type": "nominal", "scale": {"domain": ["Medium","Apoptotic","Apoptotic+αIL-8"], "paddingInner": 0.34, "paddingOuter": 0.35}, "axis": {"title": null, "labelAngle": -45, "labelFontSize": 13}},
           "y": {"field": "v", "type": "quantitative", "title": "%AnnexinV⁻/PI⁻"}}},
         {"data": {"name": "E"}, "mark": {"type": "circle", "color": "#000", "size": 30, "opacity": 1},
          "encoding": {
           "x": {"field": "grp", "type": "nominal", "scale": {"domain": ["Medium","Apoptotic","Apoptotic+αIL-8"], "paddingInner": 0.34, "paddingOuter": 0.35}, "axis": {"title": null, "labelAngle": -45, "labelFontSize": 13}},
           "xOffset": {"field": "rep", "type": "nominal", "scale": {"domain": ["a","b","c"], "paddingInner": 0, "paddingOuter": 0.2}},
           "y": {"field": "v", "type": "quantitative", "title": "%AnnexinV⁻/PI⁻"}}},
         {"data": {"name": "Esig"}, "mark": {"type": "rule", "strokeWidth": 1.3, "color": "#888"},
          "encoding": {
           "x": {"field": "g1", "type": "nominal", "scale": {"domain": ["Medium","Apoptotic","Apoptotic+αIL-8"], "paddingInner": 0.34, "paddingOuter": 0.35}, "axis": {"title": null, "labelAngle": -45, "labelFontSize": 13}},
           "x2": {"field": "g2"},
           "y": {"field": "y", "type": "quantitative", "title": "%AnnexinV⁻/PI⁻"}}},
         {"data": {"name": "Esig"}, "transform": [{"filter": "datum.lab != 'ns'"}], "mark": {"type": "text", "fontSize": 16, "baseline": "alphabetic", "dy": 2, "dx": 17},
          "encoding": {
           "x": {"field": "g1", "type": "nominal", "scale": {"domain": ["Medium","Apoptotic","Apoptotic+αIL-8"], "paddingInner": 0.34, "paddingOuter": 0.35}, "axis": {"title": null, "labelAngle": -45, "labelFontSize": 13}},
           "y": {"field": "y", "type": "quantitative", "title": "%AnnexinV⁻/PI⁻"}, "text": {"field": "lab"}}},
         {"data": {"name": "Esig"}, "transform": [{"filter": "datum.lab == 'ns'"}], "mark": {"type": "text", "fontSize": 15, "baseline": "alphabetic", "dy": -4, "dx": 17},
          "encoding": {
           "x": {"field": "g1", "type": "nominal", "scale": {"domain": ["Medium","Apoptotic","Apoptotic+αIL-8"], "paddingInner": 0.34, "paddingOuter": 0.35}, "axis": {"title": null, "labelAngle": -45, "labelFontSize": 13}},
           "y": {"field": "y", "type": "quantitative", "title": "%AnnexinV⁻/PI⁻"}, "text": {"field": "lab"}}}
        ]
       }
      ]
     }
    ]
   }
  ]
 }
]
}
